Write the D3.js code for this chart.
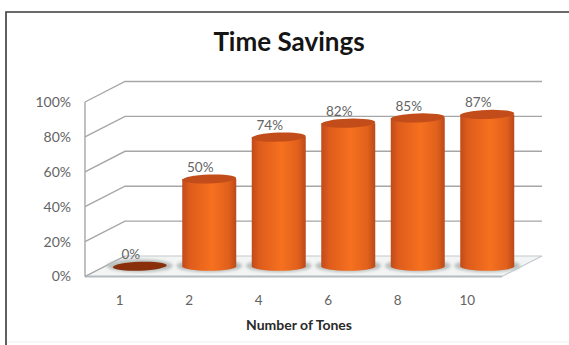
<!DOCTYPE html>
<html>
<head>
<meta charset="utf-8">
<script src="https://cdn.jsdelivr.net/npm/d3@7/dist/d3.min.js"></script>
<style>
  html, body { margin: 0; padding: 0; background: #fff; }
  svg { display: block; }
  text { font-family: Lato, "Open Sans", sans-serif; }
</style>
</head>
<body>
<svg id="chart" width="569" height="345"></svg>
<script>
const categories = ["1", "2", "4", "6", "8", "10"];
const savings = [0, 0.50, 0.74, 0.82, 0.85, 0.87];
const valueTicks = [0, 0.2, 0.4, 0.6, 0.8, 1];
const chartTitle = "Time Savings";
const xTitle = "Number of Tones";

const svg = d3.select("#chart");
const pct = d3.format(".0%");

// Front plane of the pseudo-3D box, plus the shift to its back plane
const x = d3.scaleBand().domain(categories).range([85, 502]);
const y = d3.scaleLinear().domain([0, 1]).range([276.5, 102]);
const depth = { dx: 40, dy: -20.5 };
const mid = { dx: depth.dx / 2, dy: depth.dy / 2 };

// Chart frame: only the top and left edges show
svg.append("path")
  .attr("d", "M569,12H6V345")
  .attr("fill", "none").attr("stroke", "#3a3a3a").attr("stroke-width", 1.6);
svg.append("path")
  .attr("d", "M7,342H569")
  .attr("fill", "none").attr("stroke", "#efefef").attr("stroke-width", 1);

// Floor
const [x0, x1] = x.range();
svg.append("path")
  .attr("d", `M${x0},${y(0)}L${x1},${y(0)}L${x1 + depth.dx},${y(0) + depth.dy}L${x0 + depth.dx},${y(0) + depth.dy}Z`)
  .attr("fill", "#f3f4f4").attr("stroke", "#c3cacd").attr("stroke-width", 1.2);
svg.append("line")
  .attr("x1", x0).attr("x2", x1).attr("y1", y(0)).attr("y2", y(0))
  .attr("stroke", "#b4bcc2").attr("stroke-width", 2);

// Walls: a diagonal and a back line per tick, then the front vertical
const grid = svg.append("g").attr("fill", "none").attr("stroke", "#a6a6a6").attr("stroke-width", 1.4);
valueTicks.forEach(t => {
  const back = `L${x0 + depth.dx},${y(t) + depth.dy}`;
  grid.append("path").attr("d", t === 0
    ? `M${x0},${y(t)}${back}`
    : `M${x0},${y(t)}${back}H${x1 + depth.dx}`);
});
grid.append("line").attr("x1", x0).attr("x2", x0).attr("y1", y(1)).attr("y2", y(0));

// Cylinder shading, dark at both edges and bright just off centre
const defs = svg.append("defs");
const grad = defs.append("linearGradient").attr("id", "cyl").attr("x1", 0).attr("x2", 1).attr("y1", 0).attr("y2", 0);
[[0, "#c04b1a"], [0.14, "#de5c1c"], [0.55, "#f6701f"], [0.86, "#e0601c"], [1, "#bb491a"]]
  .forEach(([o, c]) => grad.append("stop").attr("offset", o).attr("stop-color", c));
defs.append("filter").attr("id", "soft").append("feGaussianBlur").attr("stdDeviation", 1.4);

const rx = 27, ry = 4.5;
const cx = c => x(c) + x.bandwidth() / 2 + mid.dx;
const baseY = y(0) + mid.dy;

const bars = svg.append("g").selectAll("g")
  .data(categories.map((c, i) => ({ c, v: savings[i] })))
  .join("g");

// Floor shadow under each column
bars.append("ellipse")
  .attr("cx", d => cx(d.c)).attr("cy", baseY - 0.5)
  .attr("rx", rx + 6).attr("ry", ry + 2)
  .attr("fill", "#b8bfbc").attr("filter", "url(#soft)");

// Column body
bars.filter(d => d.v > 0).append("path")
  .attr("d", d => {
    const l = cx(d.c) - rx, r = cx(d.c) + rx, t = y(d.v) + mid.dy;
    return `M${l},${t}L${l},${baseY}A${rx},${ry} 0 0 0 ${r},${baseY}L${r},${t}Z`;
  })
  .attr("fill", "url(#cyl)");

// Column cap, tipped slightly; an empty column is only a dark disc
bars.append("ellipse")
  .attr("cx", d => cx(d.c)).attr("cy", d => y(d.v) + mid.dy)
  .attr("rx", rx).attr("ry", ry)
  .attr("transform", d => `rotate(-2 ${cx(d.c)} ${y(d.v) + mid.dy})`)
  .attr("fill", d => d.v > 0 ? "#c24d1a" : "#8a2f0c");

// Value labels
bars.append("text")
  .attr("x", d => cx(d.c) - 9).attr("y", d => y(d.v) + mid.dy - 7)
  .attr("text-anchor", "middle").attr("font-size", 13.5).attr("fill", "#646464")
  .text(d => pct(d.v));

// Axis labels
const yAxis = d3.axisLeft(y).tickValues(valueTicks).tickFormat(pct).tickSize(0).tickPadding(14);
const xAxis = d3.axisBottom(x).tickSize(0).tickPadding(19);
svg.append("g").attr("transform", `translate(${x0},0)`).call(yAxis)
  .call(g => g.select(".domain").remove())
  .call(g => g.selectAll("text").attr("font-size", 14).attr("fill", "#646464").style("font-family", "Lato, sans-serif"));
svg.append("g").attr("transform", `translate(0,${y(0)})`).call(xAxis)
  .call(g => g.select(".domain").remove())
  .call(g => g.selectAll("text").attr("font-size", 13.5).attr("fill", "#646464").style("font-family", "Lato, sans-serif"));

// Titles
svg.append("text").attr("x", 289).attr("y", 51).attr("text-anchor", "middle")
  .attr("font-size", 26).attr("font-weight", 700).attr("fill", "#151515").text(chartTitle);
svg.append("text").attr("x", 299).attr("y", 330).attr("text-anchor", "middle")
  .attr("font-size", 14).attr("font-weight", 700).attr("fill", "#2a2a2a").text(xTitle);
</script>
</body>
</html>
